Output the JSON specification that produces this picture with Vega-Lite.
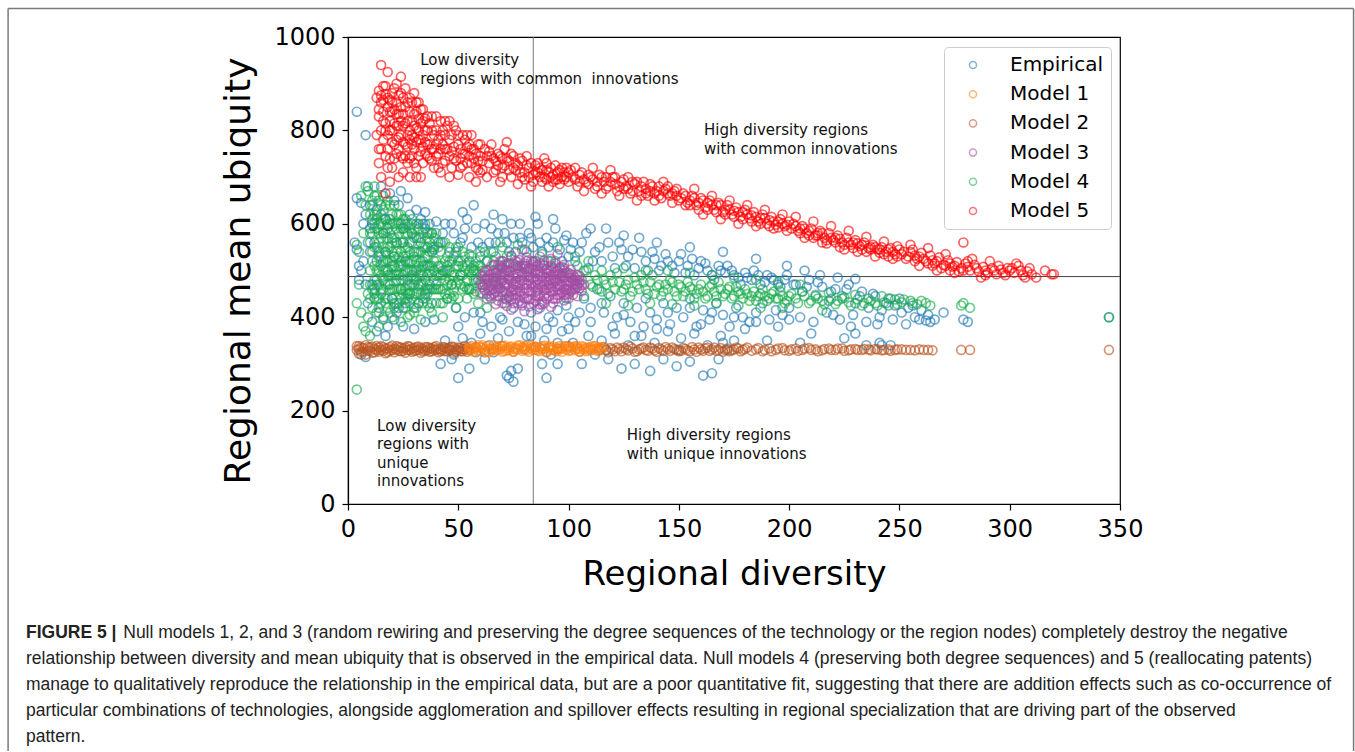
{
  "$schema": "https://vega.github.io/schema/vega-lite/v6.json",
  "autosize": {"type": "none"},
  "padding": {"left": 348, "top": 37, "right": 235, "bottom": 248},
  "width": 772,
  "height": 467,
  "background": "white",
  "data": {"values": [{"k": 1}]},
  "title": {
    "text": "FIGURE 5 |",
    "subtitle": [
      "\u200b\u00a0\u00a0\u00a0\u00a0\u00a0\u00a0\u00a0\u00a0\u00a0\u00a0\u00a0\u00a0\u00a0\u00a0\u00a0\u00a0\u00a0\u00a0\u00a0\u00a0Null models 1, 2, and 3 (random rewiring and preserving the degree sequences of the technology or the region nodes) completely destroy the negative",
      "relationship between diversity and mean ubiquity that is observed in the empirical data. Null models 4 (preserving both degree sequences) and 5 (reallocating patents)",
      "manage to qualitatively reproduce the relationship in the empirical data, but are a poor quantitative fit, suggesting that there are addition effects such as co-occurrence of",
      "particular combinations of technologies, alongside agglomeration and spillover effects resulting in regional specialization that are driving part of the observed",
      "pattern."
    ],
    "orient": "bottom",
    "anchor": "start",
    "frame": "group",
    "offset": -128,
    "dx": -322,
    "font": "Liberation Sans",
    "fontSize": 17.5,
    "fontWeight": "bold",
    "color": "#222222",
    "subtitleFont": "Liberation Sans",
    "subtitleFontSize": 17.5,
    "subtitleFontWeight": "normal",
    "subtitleColor": "#222222",
    "subtitleLineHeight": 26,
    "subtitlePadding": -17.5,
    "limit": 3000
  },
  "datasets": {
    "emp": [
      {"x":4,"y":840},{"x":8,"y":790},{"x":4,"y":655},{"x":6,"y":645},{"x":3,"y":560},{"x":4,"y":545},{"x":5,"y":510},{"x":6,"y":500},{"x":5,"y":480},{"x":7,"y":600},{"x":8,"y":620},{"x":9,"y":680},{"x":7,"y":520},{"x":8,"y":470},{"x":9,"y":430},{"x":6,"y":320},{"x":8,"y":315},{"x":9,"y":560},{"x":10,"y":640},{"x":10,"y":590},
      {"x":11,"y":600},{"x":12,"y":560},{"x":13,"y":520},{"x":14,"y":650},{"x":15,"y":620},{"x":16,"y":580},{"x":17,"y":540},{"x":18,"y":500},{"x":19,"y":610},{"x":20,"y":570},{"x":21,"y":530},{"x":22,"y":490},{"x":23,"y":640},{"x":24,"y":600},{"x":25,"y":560},{"x":26,"y":520},{"x":27,"y":480},{"x":28,"y":620},{"x":29,"y":580},{"x":30,"y":540},{"x":31,"y":500},{"x":32,"y":600},{"x":33,"y":560},{"x":34,"y":520},{"x":35,"y":590},{"x":36,"y":550},{"x":37,"y":510},{"x":38,"y":580},{"x":39,"y":545},{"x":40,"y":605},{"x":12,"y":450},{"x":14,"y":420},{"x":16,"y":400},{"x":18,"y":380},{"x":20,"y":440},{"x":22,"y":410},{"x":24,"y":460},{"x":26,"y":430},{"x":28,"y":450},{"x":30,"y":420},{"x":32,"y":470},{"x":34,"y":440},{"x":36,"y":460},{"x":38,"y":430},{"x":40,"y":470},{"x":15,"y":680},{"x":19,"y":665},{"x":24,"y":670},{"x":21,"y":650},{"x":27,"y":655},{"x":31,"y":630},{"x":35,"y":625},{"x":13,"y":630},{"x":17,"y":610},{"x":25,"y":590},{"x":29,"y":600},{"x":33,"y":610},{"x":37,"y":600},{"x":11,"y":390},{"x":13,"y":370},{"x":17,"y":360},{"x":21,"y":395},{"x":25,"y":380},{"x":30,"y":375},{"x":35,"y":390},{"x":39,"y":395},
      {"x":42,"y":560},{"x":44,"y":600},{"x":46,"y":540},{"x":48,"y":580},{"x":50,"y":520},{"x":52,"y":570},{"x":54,"y":610},{"x":56,"y":550},{"x":58,"y":590},{"x":60,"y":530},{"x":62,"y":600},{"x":64,"y":560},{"x":66,"y":540},{"x":68,"y":580},{"x":70,"y":520},{"x":72,"y":560},{"x":74,"y":600},{"x":76,"y":540},{"x":78,"y":570},{"x":80,"y":510},{"x":82,"y":580},{"x":84,"y":550},{"x":86,"y":600},{"x":88,"y":540},{"x":90,"y":570},{"x":92,"y":520},{"x":94,"y":590},{"x":96,"y":545},{"x":98,"y":565},{"x":100,"y":530},{"x":43,"y":500},{"x":47,"y":470},{"x":51,"y":490},{"x":55,"y":460},{"x":59,"y":480},{"x":63,"y":450},{"x":67,"y":470},{"x":71,"y":440},{"x":75,"y":420},{"x":79,"y":430},{"x":83,"y":410},{"x":87,"y":420},{"x":91,"y":400},{"x":95,"y":415},{"x":99,"y":425},{"x":45,"y":440},{"x":49,"y":420},{"x":53,"y":400},{"x":57,"y":410},{"x":61,"y":390},{"x":65,"y":380},{"x":69,"y":400},{"x":73,"y":370},{"x":77,"y":390},{"x":81,"y":360},{"x":85,"y":380},{"x":89,"y":350},{"x":93,"y":390},{"x":97,"y":370},{"x":44,"y":350},{"x":48,"y":320},{"x":52,"y":355},{"x":56,"y":345},{"x":60,"y":365},{"x":64,"y":340},{"x":68,"y":355},{"x":72,"y":275},{"x":74,"y":285},{"x":75,"y":262},{"x":73,"y":270},{"x":77,"y":290},{"x":88,"y":300},{"x":90,"y":270},{"x":92,"y":320},{"x":95,"y":300},{"x":100,"y":375},{"x":42,"y":300},{"x":47,"y":310},{"x":50,"y":270},{"x":55,"y":290},{"x":62,"y":310},{"x":66,"y":620},{"x":70,"y":610},{"x":78,"y":600},{"x":57,"y":640},{"x":52,"y":625},{"x":85,"y":615},{"x":93,"y":610},
      {"x":102,"y":560},{"x":105,"y":540},{"x":108,"y":580},{"x":111,"y":520},{"x":114,"y":550},{"x":117,"y":590},{"x":120,"y":530},{"x":123,"y":560},{"x":126,"y":510},{"x":129,"y":545},{"x":132,"y":570},{"x":135,"y":520},{"x":138,"y":540},{"x":141,"y":500},{"x":144,"y":535},{"x":147,"y":510},{"x":150,"y":520},{"x":153,"y":495},{"x":156,"y":525},{"x":159,"y":505},{"x":162,"y":515},{"x":165,"y":490},{"x":168,"y":510},{"x":171,"y":495},{"x":174,"y":500},{"x":177,"y":485},{"x":180,"y":495},{"x":183,"y":480},{"x":186,"y":490},{"x":189,"y":475},{"x":192,"y":485},{"x":195,"y":470},{"x":198,"y":480},{"x":104,"y":470},{"x":107,"y":440},{"x":110,"y":420},{"x":113,"y":460},{"x":116,"y":410},{"x":119,"y":445},{"x":122,"y":400},{"x":125,"y":430},{"x":128,"y":390},{"x":131,"y":420},{"x":134,"y":380},{"x":137,"y":410},{"x":140,"y":395},{"x":143,"y":430},{"x":146,"y":385},{"x":149,"y":420},{"x":152,"y":400},{"x":155,"y":440},{"x":158,"y":380},{"x":161,"y":415},{"x":164,"y":395},{"x":167,"y":430},{"x":170,"y":405},{"x":173,"y":380},{"x":176,"y":420},{"x":179,"y":400},{"x":182,"y":390},{"x":185,"y":410},{"x":188,"y":430},{"x":191,"y":395},{"x":194,"y":415},{"x":197,"y":405},{"x":200,"y":420},{"x":103,"y":390},{"x":109,"y":360},{"x":115,"y":350},{"x":121,"y":365},{"x":127,"y":340},{"x":133,"y":360},{"x":139,"y":345},{"x":145,"y":370},{"x":151,"y":355},{"x":157,"y":365},{"x":163,"y":340},{"x":169,"y":360},{"x":175,"y":350},{"x":106,"y":300},{"x":112,"y":320},{"x":118,"y":310},{"x":124,"y":290},{"x":130,"y":300},{"x":137,"y":285},{"x":143,"y":310},{"x":149,"y":295},{"x":155,"y":305},{"x":161,"y":275},{"x":165,"y":280},{"x":168,"y":310},{"x":172,"y":330},{"x":110,"y":590},{"x":125,"y":575},{"x":140,"y":560},{"x":155,"y":550},{"x":170,"y":540},{"x":185,"y":525},{"x":199,"y":510},
      {"x":203,"y":470},{"x":206,"y":455},{"x":209,"y":480},{"x":212,"y":445},{"x":215,"y":465},{"x":218,"y":435},{"x":221,"y":460},{"x":224,"y":440},{"x":227,"y":470},{"x":230,"y":430},{"x":233,"y":455},{"x":236,"y":420},{"x":239,"y":445},{"x":242,"y":415},{"x":245,"y":440},{"x":248,"y":425},{"x":251,"y":410},{"x":254,"y":420},{"x":257,"y":400},{"x":260,"y":415},{"x":263,"y":405},{"x":266,"y":395},{"x":270,"y":410},{"x":205,"y":400},{"x":211,"y":390},{"x":217,"y":410},{"x":223,"y":395},{"x":229,"y":405},{"x":235,"y":390},{"x":241,"y":400},{"x":247,"y":395},{"x":253,"y":385},{"x":259,"y":395},{"x":264,"y":390},{"x":242,"y":340},{"x":241,"y":345},{"x":230,"y":365},{"x":228,"y":380},{"x":262,"y":393},{"x":279,"y":395},{"x":281,"y":390},{"x":345,"y":400},{"x":207,"y":500},{"x":214,"y":490},{"x":222,"y":485},{"x":230,"y":482},{"x":225,"y":355},{"x":210,"y":365},
      {"x":10,"y":540},{"x":11,"y":470},{"x":12,"y":600},{"x":13,"y":480},{"x":14,"y":540},{"x":15,"y":460},{"x":16,"y":520},{"x":17,"y":440},{"x":18,"y":590},{"x":19,"y":470},{"x":20,"y":510},{"x":21,"y":430},{"x":22,"y":560},{"x":23,"y":420},{"x":24,"y":520},{"x":25,"y":480},{"x":26,"y":600},{"x":27,"y":440},{"x":28,"y":560},{"x":29,"y":500},{"x":30,"y":470},{"x":31,"y":570},{"x":32,"y":430},{"x":33,"y":490},{"x":34,"y":600},{"x":35,"y":450},{"x":36,"y":580},{"x":37,"y":470},{"x":38,"y":540},{"x":39,"y":500},{"x":41,"y":560},{"x":43,"y":580},{"x":45,"y":510},{"x":47,"y":600},{"x":49,"y":540},{"x":51,"y":560},{"x":53,"y":590},{"x":55,"y":520},{"x":57,"y":500},{"x":59,"y":560},{"x":61,"y":550},{"x":63,"y":520},{"x":65,"y":590},{"x":67,"y":560},{"x":69,"y":510},{"x":71,"y":580},{"x":73,"y":540},{"x":75,"y":570},{"x":77,"y":510},{"x":79,"y":560},{"x":81,"y":540},{"x":83,"y":570},{"x":85,"y":520},{"x":87,"y":560},{"x":89,"y":510},{"x":91,"y":550},{"x":93,"y":560},{"x":95,"y":500},{"x":97,"y":520},{"x":99,"y":575},{"x":101,"y":545},{"x":103,"y":520},{"x":106,"y":560},{"x":109,"y":505},{"x":112,"y":540},{"x":115,"y":520},{"x":118,"y":560},{"x":121,"y":505},{"x":124,"y":545},{"x":127,"y":530},{"x":130,"y":505},{"x":133,"y":540},{"x":136,"y":500},{"x":139,"y":525},{"x":142,"y":510},{"x":145,"y":520},{"x":148,"y":495},{"x":151,"y":535},{"x":154,"y":510},{"x":157,"y":490},{"x":160,"y":520},{"x":163,"y":500},{"x":166,"y":480},{"x":169,"y":500},{"x":172,"y":510},{"x":175,"y":490},{"x":178,"y":470},{"x":181,"y":485},{"x":184,"y":500},{"x":187,"y":470},{"x":190,"y":490},{"x":193,"y":480},{"x":196,"y":465},{"x":199,"y":490},{"x":202,"y":470},{"x":208,"y":465},{"x":213,"y":475},{"x":219,"y":455},{"x":226,"y":460},{"x":232,"y":445},{"x":238,"y":450},{"x":244,"y":430},{"x":250,"y":440},{"x":256,"y":425},{"x":105,"y":410},{"x":115,"y":430},{"x":125,"y":405},{"x":135,"y":440},{"x":145,"y":410},{"x":155,"y":420},{"x":165,"y":410},{"x":175,"y":400},{"x":185,"y":390},{"x":195,"y":380},{"x":120,"y":380},{"x":140,"y":375},{"x":160,"y":385},{"x":180,"y":375},{"x":200,"y":395},{"x":220,"y":405},{"x":240,"y":385},{"x":50,"y":380},{"x":60,"y":410},{"x":70,"y":395},{"x":80,"y":385},{"x":90,"y":375},{"x":100,"y":400},{"x":110,"y":390},{"x":46,"y":330},{"x":58,"y":325},{"x":66,"y":325},{"x":83,"y":360},{"x":95,"y":345},{"x":102,"y":345},{"x":117,"y":330},{"x":130,"y":360},{"x":150,"y":330},{"x":170,"y":345},{"x":190,"y":350},{"x":205,"y":345},{"x":235,"y":340},{"x":246,"y":340}
    ],
    "m1": [
      {"x":55,"y":330},{"x":56,"y":338},{"x":57,"y":326},{"x":58,"y":334},{"x":59,"y":340},{"x":60,"y":328},{"x":61,"y":335},{"x":62,"y":331},{"x":63,"y":338},{"x":64,"y":325},{"x":65,"y":333},{"x":66,"y":340},{"x":67,"y":329},{"x":68,"y":336},{"x":69,"y":332},{"x":70,"y":326},{"x":71,"y":339},{"x":72,"y":334},{"x":73,"y":330},{"x":74,"y":337},{"x":75,"y":327},{"x":76,"y":335},{"x":77,"y":331},{"x":78,"y":340},{"x":79,"y":328},{"x":80,"y":334},{"x":81,"y":338},{"x":82,"y":326},{"x":83,"y":333},{"x":84,"y":330},{"x":85,"y":337},{"x":86,"y":329},{"x":87,"y":335},{"x":88,"y":331},{"x":89,"y":339},{"x":90,"y":327},{"x":91,"y":334},{"x":92,"y":330},{"x":93,"y":337},{"x":94,"y":328},{"x":95,"y":335},{"x":96,"y":332},{"x":97,"y":326},{"x":98,"y":338},{"x":99,"y":331},{"x":100,"y":334},{"x":101,"y":329},{"x":102,"y":336},{"x":103,"y":330},{"x":104,"y":333},{"x":105,"y":327},{"x":106,"y":338},{"x":107,"y":331},{"x":108,"y":334},{"x":109,"y":329},{"x":110,"y":336},{"x":111,"y":330},{"x":112,"y":333},{"x":113,"y":328},{"x":114,"y":335},{"x":115,"y":331},
      {"x":55,"y":336},{"x":57,"y":332},{"x":59,"y":328},{"x":61,"y":340},{"x":63,"y":327},{"x":65,"y":330},{"x":67,"y":336},{"x":69,"y":338},{"x":71,"y":328},{"x":73,"y":336},{"x":75,"y":333},{"x":77,"y":339},{"x":79,"y":336},{"x":81,"y":329},{"x":83,"y":339},{"x":85,"y":331},{"x":87,"y":327},{"x":89,"y":333},{"x":91,"y":338},{"x":93,"y":331},{"x":95,"y":327},{"x":97,"y":333},{"x":99,"y":337},{"x":101,"y":335},{"x":103,"y":338},{"x":105,"y":332},{"x":107,"y":336},{"x":109,"y":335},{"x":111,"y":338},{"x":113,"y":333},{"x":115,"y":336},{"x":56,"y":331},{"x":60,"y":336},{"x":64,"y":333},{"x":68,"y":330},{"x":72,"y":329},{"x":76,"y":331},{"x":80,"y":338},{"x":84,"y":336},{"x":88,"y":337},{"x":92,"y":335},{"x":96,"y":338},{"x":100,"y":328},{"x":104,"y":337},{"x":108,"y":327},{"x":112,"y":338}
    ],
    "m2": [
      {"x":4,"y":330},{"x":5,"y":322},{"x":5,"y":338},{"x":6,"y":326},{"x":7,"y":334},{"x":8,"y":320},{"x":8,"y":340},{"x":9,"y":328},{"x":10,"y":335},{"x":11,"y":324},{"x":12,"y":332},{"x":13,"y":338},{"x":14,"y":326},{"x":15,"y":330},{"x":16,"y":336},{"x":17,"y":323},{"x":18,"y":333},{"x":19,"y":328},{"x":20,"y":339},{"x":21,"y":325},{"x":22,"y":331},{"x":23,"y":336},{"x":24,"y":327},{"x":25,"y":333},{"x":26,"y":324},{"x":27,"y":338},{"x":28,"y":330},{"x":29,"y":326},{"x":30,"y":334},{"x":31,"y":329},{"x":32,"y":337},{"x":33,"y":324},{"x":34,"y":332},{"x":35,"y":328},{"x":36,"y":336},{"x":37,"y":326},{"x":38,"y":333},{"x":39,"y":330},{"x":40,"y":338},{"x":41,"y":325},{"x":42,"y":331},{"x":43,"y":336},{"x":44,"y":327},{"x":45,"y":333},{"x":46,"y":329},{"x":47,"y":337},{"x":48,"y":324},{"x":49,"y":331},{"x":50,"y":335},{"x":51,"y":327},{"x":52,"y":332},{"x":53,"y":338},{"x":54,"y":326},{"x":55,"y":330},{"x":58,"y":336},{"x":62,"y":325},{"x":66,"y":332},{"x":70,"y":338},{"x":75,"y":326},{"x":80,"y":331},{"x":85,"y":336},{"x":90,"y":325},{"x":95,"y":332},{"x":100,"y":338},{"x":105,"y":326},{"x":110,"y":331},{"x":114,"y":329},{"x":116,"y":336},{"x":118,"y":325},{"x":120,"y":331},{"x":122,"y":335},{"x":124,"y":327},{"x":126,"y":332},{"x":128,"y":337},{"x":130,"y":326},{"x":132,"y":331},{"x":134,"y":335},{"x":136,"y":328},{"x":138,"y":333},{"x":140,"y":326},{"x":142,"y":331},{"x":144,"y":336},{"x":146,"y":328},{"x":148,"y":332},{"x":150,"y":327},{"x":152,"y":334},{"x":154,"y":329},{"x":156,"y":336},{"x":158,"y":326},{"x":160,"y":331},{"x":162,"y":333},{"x":164,"y":328},{"x":166,"y":335},{"x":168,"y":330},{"x":170,"y":326},{"x":172,"y":333},{"x":174,"y":329},{"x":176,"y":335},{"x":178,"y":327},{"x":180,"y":332},{"x":183,"y":328},{"x":186,"y":334},{"x":189,"y":330},{"x":192,"y":327},{"x":195,"y":333},{"x":198,"y":329},{"x":201,"y":331},{"x":204,"y":328},{"x":207,"y":333},{"x":210,"y":330},{"x":213,"y":327},{"x":216,"y":332},{"x":219,"y":330},{"x":222,"y":333},{"x":225,"y":328},{"x":228,"y":331},{"x":231,"y":330},{"x":234,"y":332},{"x":237,"y":329},{"x":240,"y":331},{"x":243,"y":330},{"x":246,"y":328},{"x":249,"y":331},{"x":253,"y":330},{"x":257,"y":329},{"x":261,"y":330},{"x":265,"y":329},{"x":278,"y":330},{"x":282,"y":330},{"x":345,"y":330},
      {"x":4,"y":338},{"x":5,"y":332},{"x":6,"y":336},{"x":7,"y":326},{"x":9,"y":336},{"x":10,"y":328},{"x":11,"y":337},{"x":12,"y":325},{"x":13,"y":330},{"x":14,"y":335},{"x":15,"y":338},{"x":16,"y":328},{"x":17,"y":333},{"x":18,"y":325},{"x":19,"y":336},{"x":20,"y":330},{"x":21,"y":333},{"x":22,"y":338},{"x":23,"y":328},{"x":24,"y":335},{"x":25,"y":328},{"x":26,"y":335},{"x":27,"y":330},{"x":28,"y":337},{"x":29,"y":333},{"x":30,"y":328},{"x":31,"y":336},{"x":32,"y":330},{"x":33,"y":334},{"x":34,"y":327},{"x":35,"y":336},{"x":36,"y":330},{"x":37,"y":334},{"x":38,"y":327},{"x":39,"y":336},{"x":40,"y":330},{"x":41,"y":333},{"x":42,"y":327},{"x":43,"y":330},{"x":44,"y":335},{"x":45,"y":327},{"x":46,"y":335},{"x":47,"y":330},{"x":48,"y":336},{"x":49,"y":327},{"x":50,"y":329},{"x":51,"y":334},{"x":52,"y":327},{"x":53,"y":331},{"x":54,"y":335},{"x":117,"y":330},{"x":119,"y":334},{"x":121,"y":327},{"x":123,"y":332},{"x":125,"y":335},{"x":127,"y":329},{"x":129,"y":333},{"x":131,"y":327},{"x":133,"y":333},{"x":135,"y":330},{"x":137,"y":335},{"x":139,"y":329},{"x":141,"y":334},{"x":143,"y":328},{"x":145,"y":332},{"x":147,"y":335},{"x":149,"y":330},{"x":151,"y":328},{"x":153,"y":332},{"x":155,"y":327},{"x":157,"y":331},{"x":159,"y":335},{"x":161,"y":328},{"x":163,"y":335},{"x":165,"y":331},{"x":167,"y":328},{"x":169,"y":334},{"x":171,"y":330},{"x":173,"y":327},{"x":175,"y":331},{"x":177,"y":333},{"x":179,"y":330},{"x":181,"y":335},{"x":185,"y":331},{"x":188,"y":327},{"x":191,"y":333},{"x":194,"y":330},{"x":197,"y":334},{"x":200,"y":328},{"x":203,"y":333},{"x":206,"y":330},{"x":209,"y":334},{"x":212,"y":331},{"x":215,"y":329},{"x":218,"y":333},{"x":221,"y":330},{"x":224,"y":333},{"x":227,"y":329},{"x":230,"y":332},{"x":233,"y":330},{"x":236,"y":331},{"x":239,"y":332},{"x":242,"y":329},{"x":245,"y":331},{"x":248,"y":330},{"x":251,"y":331},{"x":255,"y":330},{"x":259,"y":331},{"x":263,"y":330}
    ],
    "m3": [
      {"x":74,"y":532},{"x":81,"y":528},{"x":87,"y":530},{"x":92,"y":525},{"x":69,"y":520},{"x":73,"y":516},{"x":78,"y":522},{"x":84,"y":518},{"x":89,"y":521},{"x":94,"y":515},{"x":98,"y":512},{"x":65,"y":510},{"x":70,"y":506},{"x":76,"y":511},{"x":80,"y":504},{"x":85,"y":509},{"x":90,"y":503},{"x":96,"y":507},{"x":101,"y":502},{"x":62,"y":498},{"x":67,"y":495},{"x":72,"y":500},{"x":77,"y":493},{"x":82,"y":497},{"x":87,"y":492},{"x":92,"y":499},{"x":97,"y":494},{"x":102,"y":490},{"x":61,"y":488},{"x":66,"y":484},{"x":71,"y":489},{"x":76,"y":483},{"x":81,"y":486},{"x":86,"y":481},{"x":91,"y":487},{"x":96,"y":482},{"x":101,"y":485},{"x":105,"y":479},{"x":60,"y":476},{"x":65,"y":472},{"x":70,"y":478},{"x":75,"y":470},{"x":80,"y":474},{"x":85,"y":469},{"x":90,"y":475},{"x":95,"y":471},{"x":100,"y":468},{"x":105,"y":473},{"x":61,"y":464},{"x":66,"y":460},{"x":71,"y":466},{"x":76,"y":458},{"x":81,"y":462},{"x":86,"y":457},{"x":91,"y":463},{"x":96,"y":459},{"x":101,"y":461},{"x":106,"y":456},{"x":60,"y":452},{"x":65,"y":448},{"x":70,"y":454},{"x":75,"y":447},{"x":80,"y":451},{"x":85,"y":446},{"x":90,"y":452},{"x":95,"y":448},{"x":100,"y":450},{"x":104,"y":445},{"x":63,"y":440},{"x":68,"y":436},{"x":73,"y":442},{"x":78,"y":435},{"x":83,"y":439},{"x":88,"y":434},{"x":93,"y":440},{"x":98,"y":436},{"x":67,"y":428},{"x":72,"y":424},{"x":77,"y":430},{"x":82,"y":423},{"x":87,"y":427},{"x":92,"y":422},{"x":74,"y":416},{"x":80,"y":413},{"x":86,"y":417},{"x":79,"y":545},{"x":83,"y":470},{"x":78,"y":480},{"x":88,"y":465},{"x":73,"y":488},{"x":93,"y":478},{"x":68,"y":470},{"x":98,"y":460},{"x":84,"y":500},{"x":76,"y":448},{"x":89,"y":445},{"x":70,"y":520},{"x":95,"y":535},
      {"x":62,"y":480},{"x":63,"y":470},{"x":64,"y":458},{"x":64,"y":490},{"x":66,"y":500},{"x":66,"y":450},{"x":67,"y":475},{"x":68,"y":512},{"x":68,"y":445},{"x":69,"y":490},{"x":69,"y":462},{"x":70,"y":430},{"x":71,"y":498},{"x":71,"y":474},{"x":72,"y":452},{"x":72,"y":512},{"x":73,"y":480},{"x":73,"y":465},{"x":74,"y":500},{"x":74,"y":438},{"x":75,"y":490},{"x":75,"y":460},{"x":76,"y":520},{"x":76,"y":476},{"x":77,"y":505},{"x":77,"y":455},{"x":78,"y":468},{"x":78,"y":445},{"x":79,"y":495},{"x":79,"y":425},{"x":80,"y":515},{"x":80,"y":488},{"x":81,"y":470},{"x":81,"y":440},{"x":82,"y":505},{"x":82,"y":455},{"x":83,"y":520},{"x":83,"y":485},{"x":84,"y":430},{"x":84,"y":465},{"x":85,"y":495},{"x":85,"y":478},{"x":86,"y":510},{"x":86,"y":445},{"x":87,"y":470},{"x":87,"y":500},{"x":88,"y":488},{"x":88,"y":428},{"x":89,"y":512},{"x":89,"y":458},{"x":90,"y":485},{"x":90,"y":440},{"x":91,"y":500},{"x":91,"y":470},{"x":92,"y":455},{"x":92,"y":510},{"x":93,"y":490},{"x":93,"y":430},{"x":94,"y":465},{"x":94,"y":498},{"x":95,"y":482},{"x":95,"y":440},{"x":96,"y":505},{"x":96,"y":468},{"x":97,"y":452},{"x":97,"y":488},{"x":98,"y":478},{"x":98,"y":500},{"x":99,"y":470},{"x":99,"y":448},{"x":100,"y":495},{"x":100,"y":458},{"x":101,"y":475},{"x":102,"y":470},{"x":102,"y":448},{"x":103,"y":485},{"x":103,"y":460},{"x":104,"y":465},{"x":104,"y":490},{"x":106,"y":468},
      {"x":61,"y":470},{"x":62,"y":458},{"x":62,"y":490},{"x":63,"y":482},{"x":63,"y":500},{"x":64,"y":468},{"x":64,"y":445},{"x":65,"y":492},{"x":65,"y":460},{"x":66,"y":478},{"x":66,"y":512},{"x":67,"y":485},{"x":67,"y":455},{"x":68,"y":465},{"x":68,"y":490},{"x":69,"y":505},{"x":69,"y":475},{"x":70,"y":445},{"x":70,"y":492},{"x":71,"y":455},{"x":71,"y":512},{"x":72,"y":470},{"x":72,"y":438},{"x":73,"y":498},{"x":74,"y":478},{"x":74,"y":455},{"x":75,"y":508},{"x":75,"y":430},{"x":76,"y":492},{"x":76,"y":440},{"x":77,"y":470},{"x":77,"y":518},{"x":78,"y":455},{"x":78,"y":498},{"x":79,"y":478},{"x":79,"y":510},{"x":80,"y":440},{"x":80,"y":462},{"x":81,"y":498},{"x":81,"y":520},{"x":82,"y":478},{"x":82,"y":438},{"x":83,"y":455},{"x":83,"y":505},{"x":84,"y":485},{"x":84,"y":512},{"x":85,"y":455},{"x":85,"y":435},{"x":86,"y":492},{"x":86,"y":470},{"x":87,"y":515},{"x":87,"y":448},{"x":88,"y":478},{"x":88,"y":505},{"x":89,"y":470},{"x":89,"y":430},{"x":90,"y":495},{"x":90,"y":460},{"x":91,"y":478},{"x":91,"y":445},{"x":92,"y":490},{"x":92,"y":465},{"x":93,"y":505},{"x":93,"y":455},{"x":94,"y":478},{"x":94,"y":440},{"x":95,"y":492},{"x":95,"y":460},{"x":96,"y":448},{"x":96,"y":492},{"x":97,"y":470},{"x":97,"y":508},{"x":98,"y":485},{"x":98,"y":448},{"x":99,"y":495},{"x":99,"y":460},{"x":100,"y":478},{"x":100,"y":440},{"x":101,"y":492},{"x":101,"y":455},{"x":102,"y":480},{"x":103,"y":470},{"x":104,"y":478},{"x":105,"y":462},{"x":105,"y":488},{"x":107,"y":470}
    ],
    "m4": [
      {"x":4,"y":245},{"x":4,"y":430},{"x":5,"y":470},{"x":4,"y":555},{"x":5,"y":540},{"x":6,"y":660},{"x":8,"y":680},{"x":9,"y":670},{"x":7,"y":380},{"x":8,"y":370},{"x":9,"y":400},{"x":6,"y":410},{"x":10,"y":360},{"x":9,"y":450},{"x":8,"y":640},{"x":7,"y":580},
      {"x":11,"y":650},{"x":12,"y":620},{"x":13,"y":590},{"x":14,"y":560},{"x":15,"y":530},{"x":16,"y":500},{"x":17,"y":470},{"x":18,"y":440},{"x":19,"y":410},{"x":11,"y":520},{"x":12,"y":480},{"x":13,"y":440},{"x":14,"y":410},{"x":15,"y":640},{"x":16,"y":610},{"x":17,"y":580},{"x":18,"y":550},{"x":19,"y":520},{"x":20,"y":490},{"x":21,"y":460},{"x":22,"y":430},{"x":23,"y":620},{"x":24,"y":590},{"x":25,"y":560},{"x":26,"y":530},{"x":27,"y":500},{"x":28,"y":470},{"x":29,"y":440},{"x":30,"y":410},{"x":20,"y":600},{"x":21,"y":570},{"x":22,"y":540},{"x":23,"y":510},{"x":24,"y":480},{"x":25,"y":450},{"x":26,"y":420},{"x":27,"y":400},{"x":31,"y":600},{"x":32,"y":570},{"x":33,"y":540},{"x":34,"y":510},{"x":35,"y":480},{"x":36,"y":450},{"x":37,"y":420},{"x":38,"y":580},{"x":39,"y":550},{"x":40,"y":520},{"x":41,"y":490},{"x":42,"y":460},{"x":43,"y":430},{"x":44,"y":560},{"x":45,"y":530},{"x":46,"y":500},{"x":47,"y":470},{"x":48,"y":445},{"x":49,"y":420},{"x":50,"y":550},{"x":51,"y":520},{"x":52,"y":490},{"x":53,"y":465},{"x":54,"y":440},{"x":55,"y":535},{"x":56,"y":505},{"x":57,"y":480},{"x":58,"y":455},{"x":59,"y":430},{"x":60,"y":510},{"x":11,"y":580},{"x":12,"y":550},{"x":13,"y":500},{"x":14,"y":470},{"x":15,"y":600},{"x":16,"y":660},{"x":17,"y":520},{"x":18,"y":490},{"x":19,"y":580},{"x":20,"y":540},{"x":21,"y":510},{"x":22,"y":590},{"x":23,"y":460},{"x":24,"y":540},{"x":25,"y":510},{"x":26,"y":580},{"x":27,"y":550},{"x":28,"y":520},{"x":29,"y":560},{"x":30,"y":500},{"x":31,"y":480},{"x":32,"y":460},{"x":33,"y":500},{"x":34,"y":580},{"x":35,"y":550},{"x":36,"y":530},{"x":37,"y":560},{"x":38,"y":490},{"x":40,"y":460},{"x":42,"y":540},{"x":44,"y":480},{"x":46,"y":450},{"x":48,"y":530},{"x":50,"y":480},{"x":52,"y":540},{"x":54,"y":510},{"x":56,"y":460},{"x":58,"y":520},{"x":14,"y":380},{"x":16,"y":395},{"x":20,"y":400},{"x":24,"y":390},{"x":28,"y":405},{"x":33,"y":395},{"x":38,"y":410},{"x":43,"y":400},{"x":12,"y":680},{"x":10,"y":620},{"x":18,"y":650},{"x":13,"y":660},
      {"x":62,"y":540},{"x":64,"y":480},{"x":66,"y":520},{"x":68,"y":460},{"x":70,"y":550},{"x":72,"y":500},{"x":74,"y":530},{"x":76,"y":470},{"x":78,"y":510},{"x":80,"y":545},{"x":82,"y":490},{"x":84,"y":520},{"x":86,"y":460},{"x":88,"y":535},{"x":90,"y":500},{"x":92,"y":480},{"x":94,"y":520},{"x":96,"y":470},{"x":98,"y":505},{"x":100,"y":490},{"x":102,"y":460},{"x":104,"y":510},{"x":106,"y":480},{"x":108,"y":500},{"x":110,"y":470},{"x":61,"y":450},{"x":65,"y":440},{"x":69,"y":560},{"x":73,"y":445},{"x":77,"y":555},{"x":95,"y":550},{"x":99,"y":440},{"x":103,"y":530},{"x":107,"y":445},{"x":109,"y":520},{"x":63,"y":420},{"x":67,"y":500},{"x":71,"y":430},
      {"x":112,"y":490},{"x":114,"y":460},{"x":116,"y":480},{"x":118,"y":450},{"x":120,"y":475},{"x":122,"y":495},{"x":124,"y":455},{"x":126,"y":470},{"x":128,"y":445},{"x":130,"y":485},{"x":132,"y":460},{"x":134,"y":475},{"x":136,"y":450},{"x":138,"y":490},{"x":140,"y":465},{"x":142,"y":445},{"x":144,"y":470},{"x":146,"y":480},{"x":148,"y":455},{"x":150,"y":470},{"x":152,"y":445},{"x":154,"y":475},{"x":156,"y":460},{"x":158,"y":450},{"x":160,"y":470},{"x":162,"y":440},{"x":164,"y":465},{"x":166,"y":455},{"x":168,"y":475},{"x":170,"y":445},{"x":172,"y":460},{"x":174,"y":440},{"x":176,"y":465},{"x":178,"y":450},{"x":180,"y":460},{"x":182,"y":435},{"x":184,"y":455},{"x":186,"y":445},{"x":188,"y":460},{"x":190,"y":435},{"x":192,"y":450},{"x":194,"y":440},{"x":196,"y":455},{"x":198,"y":430},{"x":200,"y":445},{"x":203,"y":440},{"x":206,"y":455},{"x":209,"y":430},{"x":212,"y":448},{"x":215,"y":435},{"x":218,"y":452},{"x":221,"y":428},{"x":224,"y":445},{"x":227,"y":432},{"x":230,"y":448},{"x":233,"y":425},{"x":236,"y":440},{"x":239,"y":430},{"x":242,"y":445},{"x":245,"y":425},{"x":248,"y":438},{"x":251,"y":432},{"x":255,"y":435},{"x":258,"y":428},{"x":262,"y":430},{"x":264,"y":425},{"x":278,"y":425},{"x":279,"y":430},{"x":282,"y":420},{"x":345,"y":400},{"x":115,"y":500},{"x":125,"y":505},{"x":135,"y":500},{"x":145,"y":500},{"x":155,"y":495},{"x":165,"y":490},{"x":175,"y":485},{"x":185,"y":480},{"x":195,"y":475},{"x":205,"y":470},{"x":117,"y":430},{"x":127,"y":425},{"x":137,"y":430},{"x":147,"y":428},{"x":157,"y":425},{"x":167,"y":430},{"x":177,"y":425},{"x":187,"y":420},{"x":197,"y":420},{"x":215,"y":415},
      {"x":10,"y":560},{"x":10,"y":500},{"x":10,"y":440},{"x":11,"y":610},{"x":11,"y":460},{"x":11,"y":420},{"x":12,"y":590},{"x":12,"y":510},{"x":12,"y":440},{"x":13,"y":620},{"x":13,"y":550},{"x":13,"y":470},{"x":14,"y":600},{"x":14,"y":500},{"x":14,"y":440},{"x":15,"y":570},{"x":15,"y":490},{"x":15,"y":430},{"x":16,"y":550},{"x":16,"y":460},{"x":16,"y":630},{"x":17,"y":610},{"x":17,"y":500},{"x":17,"y":430},{"x":18,"y":600},{"x":18,"y":520},{"x":18,"y":470},{"x":19,"y":640},{"x":19,"y":550},{"x":19,"y":460},{"x":20,"y":620},{"x":20,"y":520},{"x":20,"y":440},{"x":21,"y":600},{"x":21,"y":490},{"x":21,"y":420},{"x":22,"y":620},{"x":22,"y":500},{"x":22,"y":460},{"x":23,"y":580},{"x":23,"y":490},{"x":23,"y":430},{"x":24,"y":620},{"x":24,"y":510},{"x":24,"y":440},{"x":25,"y":590},{"x":25,"y":530},{"x":25,"y":420},{"x":26,"y":610},{"x":26,"y":500},{"x":26,"y":460},{"x":27,"y":580},{"x":27,"y":520},{"x":27,"y":450},{"x":28,"y":590},{"x":28,"y":500},{"x":28,"y":430},{"x":29,"y":610},{"x":29,"y":520},{"x":29,"y":470},{"x":30,"y":570},{"x":30,"y":530},{"x":30,"y":450},{"x":31,"y":540},{"x":31,"y":450},{"x":32,"y":590},{"x":32,"y":510},{"x":32,"y":430},{"x":33,"y":570},{"x":33,"y":470},{"x":34,"y":550},{"x":34,"y":470},{"x":35,"y":600},{"x":35,"y":510},{"x":35,"y":440},{"x":36,"y":570},{"x":36,"y":490},{"x":37,"y":540},{"x":37,"y":460},{"x":38,"y":550},{"x":38,"y":460},{"x":39,"y":520},{"x":39,"y":480},{"x":40,"y":580},{"x":40,"y":490},{"x":41,"y":550},{"x":41,"y":460},{"x":42,"y":510},{"x":42,"y":430},{"x":43,"y":560},{"x":43,"y":490},{"x":44,"y":520},{"x":44,"y":450},{"x":45,"y":500},{"x":45,"y":440},{"x":46,"y":550},{"x":46,"y":480},{"x":47,"y":520},{"x":47,"y":440},{"x":48,"y":490},{"x":49,"y":550},{"x":49,"y":470},{"x":50,"y":510},{"x":50,"y":440},{"x":51,"y":490},{"x":52,"y":460},{"x":53,"y":530},{"x":53,"y":500},{"x":54,"y":480},{"x":55,"y":500},{"x":55,"y":460},{"x":56,"y":530},{"x":57,"y":510},{"x":57,"y":450},{"x":58,"y":480},{"x":59,"y":510},{"x":60,"y":470},{"x":60,"y":540},{"x":61,"y":500},{"x":62,"y":470},{"x":63,"y":520},{"x":64,"y":500},{"x":65,"y":540},{"x":66,"y":470},{"x":67,"y":530},{"x":68,"y":500},{"x":69,"y":480},{"x":70,"y":510},{"x":71,"y":470},{"x":72,"y":530},{"x":73,"y":490},{"x":75,"y":515},{"x":79,"y":490},{"x":85,"y":500},{"x":91,"y":520},{"x":97,"y":490},{"x":103,"y":480},{"x":107,"y":500},{"x":111,"y":465},{"x":113,"y":480},{"x":115,"y":455},{"x":117,"y":470},{"x":119,"y":490},{"x":121,"y":460},{"x":123,"y":475},{"x":125,"y":460},{"x":127,"y":480},{"x":129,"y":455},{"x":131,"y":470},{"x":133,"y":490},{"x":135,"y":460},{"x":137,"y":475},{"x":139,"y":450},{"x":141,"y":470},{"x":143,"y":455},{"x":145,"y":460},{"x":147,"y":475},{"x":149,"y":445},{"x":151,"y":465},{"x":153,"y":455},{"x":155,"y":465},{"x":157,"y":440},{"x":159,"y":460},{"x":161,"y":455},{"x":163,"y":445},{"x":165,"y":470},{"x":167,"y":445},{"x":169,"y":460},{"x":171,"y":450},{"x":173,"y":465},{"x":175,"y":445},{"x":177,"y":455},{"x":179,"y":440},{"x":181,"y":450},{"x":183,"y":445},{"x":185,"y":435},{"x":187,"y":450},{"x":189,"y":445},{"x":191,"y":440},{"x":193,"y":455},{"x":195,"y":440},{"x":197,"y":445},{"x":199,"y":435},{"x":201,"y":450},{"x":204,"y":430},{"x":207,"y":445},{"x":210,"y":435},{"x":213,"y":440},{"x":216,"y":428},{"x":219,"y":440},{"x":222,"y":435},{"x":225,"y":442},{"x":228,"y":425},{"x":231,"y":438},{"x":234,"y":430},{"x":237,"y":435},{"x":240,"y":425},{"x":243,"y":432},{"x":246,"y":440},{"x":249,"y":428},{"x":252,"y":438},{"x":256,"y":430},{"x":260,"y":435},
      {"x":10,"y":580},{"x":10,"y":470},{"x":11,"y":540},{"x":11,"y":640},{"x":12,"y":460},{"x":12,"y":660},{"x":13,"y":410},{"x":13,"y":610},{"x":14,"y":530},{"x":14,"y":580},{"x":15,"y":450},{"x":15,"y":510},{"x":16,"y":480},{"x":16,"y":580},{"x":17,"y":540},{"x":17,"y":640},{"x":18,"y":420},{"x":18,"y":570},{"x":19,"y":490},{"x":19,"y":600},{"x":20,"y":460},{"x":20,"y":560},{"x":21,"y":530},{"x":21,"y":640},{"x":22,"y":480},{"x":22,"y":560},{"x":23,"y":530},{"x":23,"y":600},{"x":24,"y":460},{"x":24,"y":560},{"x":25,"y":490},{"x":25,"y":610},{"x":26,"y":440},{"x":26,"y":550},{"x":27,"y":470},{"x":27,"y":600},{"x":28,"y":540},{"x":28,"y":450},{"x":29,"y":490},{"x":29,"y":580},{"x":30,"y":480},{"x":30,"y":590},{"x":31,"y":520},{"x":31,"y":420},{"x":32,"y":490},{"x":32,"y":540},{"x":33,"y":450},{"x":33,"y":520},{"x":34,"y":490},{"x":34,"y":430},{"x":35,"y":530},{"x":35,"y":460},{"x":36,"y":510},{"x":36,"y":430},{"x":37,"y":500},{"x":37,"y":580},{"x":38,"y":510},{"x":39,"y":460},{"x":39,"y":570},{"x":40,"y":430},{"x":41,"y":510},{"x":42,"y":490},{"x":43,"y":460},{"x":44,"y":500},{"x":45,"y":470},{"x":46,"y":520},{"x":47,"y":490},{"x":48,"y":460},{"x":49,"y":510},{"x":51,"y":470},{"x":52,"y":510},{"x":54,"y":460},{"x":56,"y":490},{"x":58,"y":500},{"x":60,"y":490}
    ],
    "m5": [
      {"x":13,"y":870},{"x":14,"y":885},{"x":15,"y":860},{"x":16,"y":895},{"x":17,"y":878},{"x":18,"y":850},{"x":14,"y":830},{"x":15,"y":800},{"x":16,"y":840},{"x":17,"y":815},{"x":18,"y":790},{"x":19,"y":865},{"x":20,"y":880},{"x":15,"y":760},{"x":16,"y":780},{"x":17,"y":745},{"x":18,"y":720},{"x":14,"y":730},{"x":19,"y":820},{"x":20,"y":840},{"x":20,"y":800},{"x":21,"y":770},{"x":22,"y":900},{"x":24,"y":915},{"x":15,"y":940},{"x":18,"y":925},{"x":20,"y":720},{"x":19,"y":690},{"x":17,"y":665},{"x":15,"y":700},{"x":13,"y":790},{"x":14,"y":760},
      {"x":22,"y":860},{"x":23,"y":835},{"x":24,"y":880},{"x":25,"y":810},{"x":26,"y":850},{"x":27,"y":790},{"x":28,"y":870},{"x":29,"y":820},{"x":30,"y":760},{"x":31,"y":840},{"x":32,"y":800},{"x":33,"y":780},{"x":34,"y":820},{"x":35,"y":750},{"x":23,"y":760},{"x":25,"y":740},{"x":27,"y":730},{"x":29,"y":745},{"x":31,"y":720},{"x":33,"y":700},{"x":24,"y":790},{"x":26,"y":770},{"x":28,"y":800},{"x":30,"y":810},{"x":32,"y":860},{"x":34,"y":790},{"x":35,"y":800},{"x":22,"y":810},{"x":26,"y":890},{"x":30,"y":880},{"x":33,"y":845},{"x":36,"y":830},{"x":36,"y":770},{"x":28,"y":700},{"x":31,"y":700},{"x":25,"y":710},{"x":23,"y":700},{"x":21,"y":740},
      {"x":38,"y":800},{"x":40,"y":770},{"x":42,"y":790},{"x":44,"y":760},{"x":46,"y":780},{"x":48,"y":740},{"x":50,"y":770},{"x":52,"y":750},{"x":54,"y":730},{"x":56,"y":760},{"x":58,"y":720},{"x":60,"y":745},{"x":37,"y":740},{"x":39,"y":720},{"x":41,"y":750},{"x":43,"y":730},{"x":45,"y":810},{"x":47,"y":720},{"x":49,"y":800},{"x":51,"y":720},{"x":53,"y":780},{"x":55,"y":700},{"x":57,"y":740},{"x":59,"y":770},{"x":40,"y":830},{"x":44,"y":820},{"x":48,"y":810},{"x":52,"y":790},{"x":38,"y":760},{"x":42,"y":710},{"x":46,"y":700},{"x":50,"y":705},{"x":54,"y":765},{"x":58,"y":690},{"x":60,"y":710},{"x":56,"y":790},{"x":43,"y":770},{"x":47,"y":755},{"x":51,"y":740},{"x":55,"y":745},{"x":59,"y":735},
      {"x":62,"y":760},{"x":64,"y":730},{"x":66,"y":710},{"x":68,"y":750},{"x":70,"y":720},{"x":72,"y":740},{"x":74,"y":700},{"x":76,"y":730},{"x":78,"y":710},{"x":80,"y":695},{"x":82,"y":720},{"x":84,"y":705},{"x":86,"y":730},{"x":88,"y":690},{"x":90,"y":715},{"x":92,"y":700},{"x":94,"y":725},{"x":96,"y":685},{"x":98,"y":710},{"x":100,"y":690},{"x":63,"y":700},{"x":65,"y":770},{"x":67,"y":735},{"x":69,"y":690},{"x":71,"y":760},{"x":73,"y":715},{"x":75,"y":745},{"x":77,"y":685},{"x":79,"y":735},{"x":81,"y":745},{"x":83,"y":680},{"x":85,"y":710},{"x":87,"y":700},{"x":89,"y":740},{"x":91,"y":680},{"x":93,"y":690},{"x":95,"y":710},{"x":97,"y":700},{"x":99,"y":720},{"x":65,"y":745},{"x":70,"y":700},{"x":75,"y":720},{"x":80,"y":710},{"x":85,"y":725},{"x":90,"y":695},{"x":95,"y":695},{"x":100,"y":710},{"x":72,"y":775},{"x":88,"y":715},
      {"x":102,"y":700},{"x":104,"y":680},{"x":106,"y":710},{"x":108,"y":690},{"x":110,"y":700},{"x":112,"y":675},{"x":114,"y":705},{"x":116,"y":690},{"x":118,"y":680},{"x":120,"y":700},{"x":122,"y":670},{"x":124,"y":690},{"x":126,"y":680},{"x":128,"y":665},{"x":130,"y":685},{"x":132,"y":670},{"x":134,"y":690},{"x":136,"y":660},{"x":138,"y":680},{"x":140,"y":670},{"x":142,"y":655},{"x":144,"y":675},{"x":146,"y":660},{"x":148,"y":670},{"x":150,"y":650},{"x":103,"y":720},{"x":107,"y":670},{"x":111,"y":720},{"x":115,"y":665},{"x":119,"y":715},{"x":123,"y":660},{"x":127,"y":700},{"x":131,"y":650},{"x":135,"y":675},{"x":139,"y":650},{"x":143,"y":690},{"x":147,"y":645},{"x":105,"y":690},{"x":109,"y":705},{"x":113,"y":690},{"x":117,"y":700},{"x":121,"y":685},{"x":125,"y":675},{"x":129,"y":690},{"x":133,"y":660},{"x":137,"y":670},{"x":141,"y":680},{"x":145,"y":665},{"x":149,"y":660},
      {"x":152,"y":665},{"x":154,"y":645},{"x":156,"y":660},{"x":158,"y":640},{"x":160,"y":655},{"x":162,"y":635},{"x":164,"y":650},{"x":166,"y":630},{"x":168,"y":645},{"x":170,"y":625},{"x":172,"y":640},{"x":174,"y":620},{"x":176,"y":635},{"x":178,"y":615},{"x":180,"y":630},{"x":182,"y":612},{"x":184,"y":625},{"x":186,"y":605},{"x":188,"y":620},{"x":190,"y":600},{"x":192,"y":615},{"x":194,"y":598},{"x":196,"y":610},{"x":198,"y":595},{"x":200,"y":605},{"x":153,"y":640},{"x":157,"y":675},{"x":161,"y":620},{"x":165,"y":660},{"x":169,"y":610},{"x":173,"y":650},{"x":177,"y":600},{"x":181,"y":640},{"x":185,"y":595},{"x":189,"y":630},{"x":193,"y":590},{"x":197,"y":620},{"x":155,"y":650},{"x":163,"y":645},{"x":171,"y":630},{"x":179,"y":625},{"x":187,"y":612},{"x":195,"y":605},{"x":159,"y":630},{"x":167,"y":640},{"x":175,"y":628},{"x":183,"y":618},{"x":191,"y":608},{"x":199,"y":585},
      {"x":202,"y":600},{"x":204,"y":585},{"x":206,"y":595},{"x":208,"y":580},{"x":210,"y":590},{"x":212,"y":575},{"x":214,"y":585},{"x":216,"y":570},{"x":218,"y":580},{"x":220,"y":565},{"x":222,"y":575},{"x":224,"y":560},{"x":226,"y":570},{"x":228,"y":555},{"x":230,"y":565},{"x":232,"y":552},{"x":234,"y":560},{"x":236,"y":548},{"x":238,"y":555},{"x":240,"y":545},{"x":242,"y":550},{"x":244,"y":540},{"x":246,"y":548},{"x":248,"y":535},{"x":250,"y":545},{"x":203,"y":615},{"x":207,"y":570},{"x":211,"y":605},{"x":215,"y":560},{"x":219,"y":595},{"x":223,"y":550},{"x":227,"y":585},{"x":231,"y":540},{"x":235,"y":572},{"x":239,"y":530},{"x":243,"y":562},{"x":247,"y":525},{"x":205,"y":590},{"x":213,"y":580},{"x":221,"y":570},{"x":229,"y":560},{"x":237,"y":550},{"x":245,"y":545},{"x":209,"y":575},{"x":217,"y":565},{"x":225,"y":555},{"x":233,"y":545},{"x":241,"y":538},{"x":249,"y":552},
      {"x":252,"y":540},{"x":254,"y":530},{"x":256,"y":545},{"x":258,"y":525},{"x":260,"y":538},{"x":262,"y":520},{"x":264,"y":532},{"x":266,"y":515},{"x":268,"y":528},{"x":270,"y":512},{"x":272,"y":522},{"x":274,"y":508},{"x":276,"y":518},{"x":278,"y":505},{"x":280,"y":515},{"x":282,"y":500},{"x":284,"y":512},{"x":286,"y":498},{"x":288,"y":508},{"x":290,"y":495},{"x":292,"y":505},{"x":294,"y":492},{"x":296,"y":502},{"x":298,"y":490},{"x":300,"y":500},{"x":302,"y":495},{"x":304,"y":510},{"x":306,"y":490},{"x":308,"y":498},{"x":310,"y":492},{"x":312,"y":485},{"x":316,"y":500},{"x":319,"y":492},{"x":320,"y":492},{"x":255,"y":555},{"x":259,"y":510},{"x":263,"y":548},{"x":267,"y":500},{"x":271,"y":535},{"x":275,"y":495},{"x":279,"y":560},{"x":283,"y":525},{"x":287,"y":485},{"x":291,"y":520},{"x":295,"y":510},{"x":299,"y":505},{"x":303,"y":515},{"x":307,"y":485},{"x":257,"y":532},{"x":265,"y":522},{"x":273,"y":515},{"x":281,"y":508},{"x":289,"y":500},{"x":297,"y":495},{"x":305,"y":500},
      {"x":14,"y":845},{"x":15,"y":875},{"x":16,"y":820},{"x":16,"y":865},{"x":17,"y":895},{"x":17,"y":800},{"x":18,"y":870},{"x":18,"y":760},{"x":19,"y":840},{"x":19,"y":800},{"x":19,"y":740},{"x":20,"y":860},{"x":20,"y":775},{"x":21,"y":890},{"x":21,"y":815},{"x":21,"y":845},{"x":22,"y":780},{"x":22,"y":835},{"x":22,"y":750},{"x":23,"y":875},{"x":23,"y":810},{"x":23,"y":785},{"x":24,"y":850},{"x":24,"y":820},{"x":24,"y":745},{"x":25,"y":870},{"x":25,"y":835},{"x":25,"y":775},{"x":26,"y":815},{"x":26,"y":745},{"x":27,"y":860},{"x":27,"y":820},{"x":27,"y":765},{"x":28,"y":840},{"x":28,"y":780},{"x":28,"y":740},{"x":29,"y":860},{"x":29,"y":790},{"x":29,"y":770},{"x":30,"y":835},{"x":30,"y":785},{"x":30,"y":730},{"x":31,"y":860},{"x":31,"y":775},{"x":31,"y":805},{"x":32,"y":825},{"x":32,"y":745},{"x":32,"y":780},{"x":33,"y":815},{"x":33,"y":755},{"x":34,"y":845},{"x":34,"y":765},{"x":34,"y":730},{"x":35,"y":825},{"x":35,"y":775},{"x":36,"y":800},{"x":36,"y":745},{"x":37,"y":815},{"x":37,"y":770},{"x":38,"y":830},{"x":38,"y":735},{"x":39,"y":790},{"x":39,"y":760},{"x":40,"y":800},{"x":40,"y":745},{"x":41,"y":780},{"x":41,"y":720},{"x":42,"y":820},{"x":42,"y":760},{"x":43,"y":800},{"x":44,"y":735},{"x":44,"y":790},{"x":45,"y":760},{"x":46,"y":745},{"x":46,"y":820},{"x":47,"y":790},{"x":48,"y":765},{"x":49,"y":735},{"x":50,"y":790},{"x":51,"y":760},{"x":52,"y":725},{"x":53,"y":750},{"x":54,"y":790},{"x":55,"y":770},{"x":56,"y":730},{"x":57,"y":760},{"x":58,"y":750},{"x":59,"y":715},{"x":60,"y":770},{"x":61,"y":735},{"x":61,"y":715},{"x":63,"y":745},{"x":64,"y":755},{"x":66,"y":740},{"x":67,"y":715},{"x":68,"y":725},{"x":69,"y":745},{"x":70,"y":740},{"x":71,"y":725},{"x":73,"y":735},{"x":74,"y":750},{"x":76,"y":715},{"x":77,"y":725},{"x":78,"y":740},{"x":79,"y":700},{"x":81,"y":725},{"x":82,"y":700},{"x":83,"y":730},{"x":84,"y":690},{"x":86,"y":710},{"x":87,"y":720},{"x":89,"y":700},{"x":90,"y":730},{"x":91,"y":710},{"x":92,"y":720},{"x":93,"y":705},{"x":94,"y":695},{"x":96,"y":715},{"x":97,"y":720},{"x":98,"y":695},{"x":99,"y":700},{"x":101,"y":715},{"x":103,"y":695},{"x":105,"y":705},{"x":107,"y":695},{"x":109,"y":685},{"x":111,"y":695},{"x":113,"y":680},{"x":115,"y":700},{"x":117,"y":675},{"x":119,"y":690},{"x":121,"y":700},{"x":123,"y":680},{"x":125,"y":695},{"x":127,"y":675},{"x":129,"y":670},{"x":131,"y":690},{"x":133,"y":680},{"x":135,"y":665},{"x":137,"y":685},{"x":139,"y":665},{"x":141,"y":660},{"x":143,"y":670},{"x":145,"y":680},{"x":147,"y":665},{"x":149,"y":675},{"x":151,"y":655},{"x":153,"y":660},{"x":155,"y":640},{"x":157,"y":655},{"x":159,"y":645},{"x":161,"y":650},{"x":163,"y":630},{"x":165,"y":640},{"x":167,"y":625},{"x":169,"y":640},{"x":171,"y":620},{"x":173,"y":630},{"x":175,"y":615},{"x":177,"y":625},{"x":179,"y":610},{"x":181,"y":620},{"x":183,"y":605},{"x":185,"y":615},{"x":187,"y":600},{"x":189,"y":612},{"x":191,"y":595},{"x":193,"y":605},{"x":195,"y":592},{"x":197,"y":600},{"x":199,"y":598},{"x":201,"y":590},{"x":203,"y":595},{"x":205,"y":580},{"x":207,"y":590},{"x":209,"y":585},{"x":211,"y":570},{"x":213,"y":575},{"x":215,"y":580},{"x":217,"y":558},{"x":219,"y":570},{"x":221,"y":560},{"x":223,"y":568},{"x":225,"y":545},{"x":227,"y":560},{"x":229,"y":548},{"x":231,"y":558},{"x":233,"y":555},{"x":235,"y":540},{"x":237,"y":545},{"x":239,"y":550},{"x":241,"y":545},{"x":243,"y":535},{"x":245,"y":530},{"x":247,"y":540},{"x":249,"y":530},{"x":251,"y":535},{"x":253,"y":525},{"x":255,"y":540},{"x":257,"y":520},{"x":259,"y":530},{"x":261,"y":525},{"x":263,"y":515},{"x":265,"y":510},{"x":267,"y":520},{"x":269,"y":505},{"x":271,"y":510},{"x":273,"y":500},{"x":275,"y":510},{"x":277,"y":498},{"x":279,"y":500},{"x":281,"y":520},{"x":285,"y":505},{"x":289,"y":490},{"x":293,"y":500},{"x":301,"y":505},{"x":309,"y":505}
    ],
    "notes": [
      {"x": 32.7, "y": 940, "t": "Low diversity\nregions with common\u00a0 innovations"},
      {"x": 161.4, "y": 790, "t": "High diversity regions\nwith common innovations"},
      {"x": 13.2, "y": 157, "t": "Low diversity\nregions with\nunique\ninnovations"},
      {"x": 126.4, "y": 137, "t": "High diversity regions\nwith unique innovations"}
    ]
  },
  "layer": [
    {
      "mark": {"type": "rule", "color": "#7a7a7a", "strokeWidth": 1.5, "clip": false},
      "encoding": {
        "x": {"datum": -154.1, "type": "quantitative", "scale": {"domain": [0, 350], "nice": false, "zero": false}, "axis": {"values": [0, 50, 100, 150, 200, 250, 300, 350], "title": "Regional diversity", "grid": false}},
        "y": {"datum": 1061, "type": "quantitative", "scale": {"domain": [0, 1000], "nice": false, "zero": false}, "axis": {"values": [0, 200, 400, 600, 800, 1000], "format": "d", "title": "Regional mean ubiquity", "grid": false}},
        "y2": {"datum": -528.9}
      }
    },
    {
      "mark": {"type": "rule", "color": "#7a7a7a", "strokeWidth": 1.5, "clip": false},
      "encoding": {"x": {"datum": 455.9}, "y": {"datum": 1061}, "y2": {"datum": -528.9}}
    },
    {
      "mark": {"type": "rule", "color": "#7a7a7a", "strokeWidth": 1.5, "clip": false},
      "encoding": {"x": {"datum": -154.1}, "x2": {"datum": 455.9}, "y": {"datum": 1061}}
    },
    {
      "mark": {"type": "rule", "color": "#444444", "strokeWidth": 1},
      "encoding": {"y": {"datum": 487}}
    },
    {
      "mark": {"type": "rule", "color": "#777777", "strokeWidth": 1},
      "encoding": {"x": {"datum": 84}}
    },
    {
      "data": {"name": "emp"},
      "mark": {"type": "point", "shape": "circle", "filled": false, "size": 80, "strokeWidth": 1.7, "opacity": 0.62},
      "encoding": {
        "x": {"field": "x", "type": "quantitative"},
        "y": {"field": "y", "type": "quantitative"},
        "color": {"datum": "Empirical", "type": "nominal", "scale": {"domain": ["Empirical", "Model 1", "Model 2", "Model 3", "Model 4", "Model 5"], "range": ["#1f77b4", "#ff7f0e", "#b9541e", "#a64aa6", "#17ad4a", "#ff0000"]}, "legend": {"title": null}}
      }
    },
    {
      "data": {"name": "m2"},
      "mark": {"type": "point", "shape": "circle", "filled": false, "size": 80, "strokeWidth": 1.7, "opacity": 0.62},
      "encoding": {
        "x": {"field": "x", "type": "quantitative"},
        "y": {"field": "y", "type": "quantitative"},
        "color": {"datum": "Model 2", "type": "nominal"}
      }
    },
    {
      "data": {"name": "m1"},
      "mark": {"type": "point", "shape": "circle", "filled": false, "size": 80, "strokeWidth": 1.7, "opacity": 0.62},
      "encoding": {
        "x": {"field": "x", "type": "quantitative"},
        "y": {"field": "y", "type": "quantitative"},
        "color": {"datum": "Model 1", "type": "nominal"}
      }
    },
    {
      "data": {"name": "m4"},
      "mark": {"type": "point", "shape": "circle", "filled": false, "size": 80, "strokeWidth": 1.7, "opacity": 0.62},
      "encoding": {
        "x": {"field": "x", "type": "quantitative"},
        "y": {"field": "y", "type": "quantitative"},
        "color": {"datum": "Model 4", "type": "nominal"}
      }
    },
    {
      "data": {"name": "m3"},
      "mark": {"type": "point", "shape": "circle", "filled": false, "size": 80, "strokeWidth": 1.7, "opacity": 0.62},
      "encoding": {
        "x": {"field": "x", "type": "quantitative"},
        "y": {"field": "y", "type": "quantitative"},
        "color": {"datum": "Model 3", "type": "nominal"}
      }
    },
    {
      "data": {"name": "m5"},
      "mark": {"type": "point", "shape": "circle", "filled": false, "size": 80, "strokeWidth": 1.7, "opacity": 0.62},
      "encoding": {
        "x": {"field": "x", "type": "quantitative"},
        "y": {"field": "y", "type": "quantitative"},
        "color": {"datum": "Model 5", "type": "nominal"}
      }
    },
    {
      "data": {"name": "notes"},
      "mark": {"type": "text", "align": "left", "baseline": "alphabetic", "font": "DejaVu Sans", "fontSize": 15, "lineHeight": 18.6, "lineBreak": "\n", "color": "#111111"},
      "encoding": {
        "x": {"field": "x", "type": "quantitative"},
        "y": {"field": "y", "type": "quantitative"},
        "text": {"field": "t"}
      }
    }
  ],
  "config": {
    "view": {"stroke": "#000000", "strokeWidth": 1.2},
    "axis": {
      "domainColor": "#000000",
      "domainWidth": 1.2,
      "tickColor": "#000000",
      "tickWidth": 1.2,
      "tickSize": 6,
      "labelFont": "DejaVu Sans",
      "labelFontSize": 24,
      "labelColor": "#000000",
      "labelPadding": 7,
      "titleFont": "DejaVu Sans",
      "titleFontWeight": "normal",
      "titleColor": "#000000",
      "grid": false
    },
    "axisX": {"titleFontSize": 34, "titlePadding": 16, "labelFlush": false},
    "axisY": {"titleFontSize": 36, "titlePadding": 16, "labelFlush": false},
    "legend": {
      "orient": "none",
      "legendX": 596,
      "legendY": 10,
      "padding": 8,
      "symbolOffset": 11,
      "labelOffset": 27,
      "rowPadding": 9.2,
      "labelFont": "DejaVu Sans",
      "labelFontSize": 20,
      "labelColor": "#000000",
      "symbolType": "circle",
      "symbolSize": 50,
      "symbolStrokeWidth": 1.5,
      "symbolOpacity": 0.55,
      "symbolFillColor": "transparent",
      "fillColor": "rgba(255,255,255,0.85)",
      "strokeColor": "#cccccc",
      "cornerRadius": 4
    }
  }
}
